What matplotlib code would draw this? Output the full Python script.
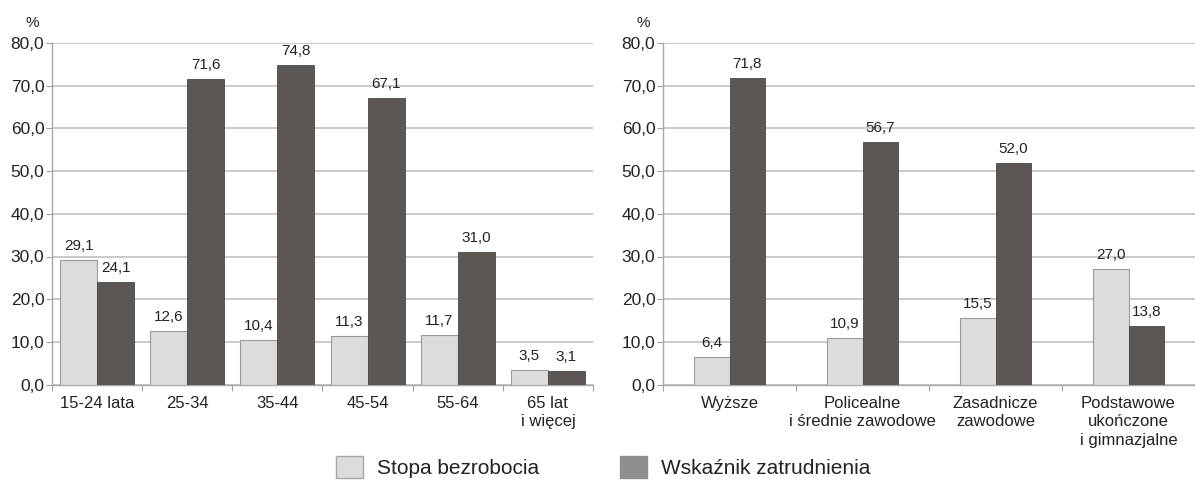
import matplotlib
matplotlib.use("Agg")
import matplotlib.pyplot as plt
from matplotlib.patches import Patch
import numpy as np

plt.rcParams['font.family'] = ['Liberation Sans', 'DejaVu Sans']

# left panel: age groups
age_groups = ["15-24 lata", "25-34", "35-44", "45-54", "55-64", "65 lat\ni więcej"]
age_unemp = [29.1, 12.6, 10.4, 11.3, 11.7, 3.5]
age_empl = [24.1, 71.6, 74.8, 67.1, 31.0, 3.1]

# right panel: education
edu_groups = ["Wyższe", "Policealne\ni średnie zawodowe", "Zasadnicze\nzawodowe",
              "Podstawowe\nukończone\ni gimnazjalne"]
edu_unemp = [6.4, 10.9, 15.5, 27.0]
edu_empl = [71.8, 56.7, 52.0, 13.8]

yticks = [0, 10, 20, 30, 40, 50, 60, 70, 80]

light = "#dcdcdc"
dark = "#5a5755"
grid_c = "#c0c0c0"
txt = "#222222"


def fmt(v):
    return ("%.1f" % v).replace(".", ",")


def panel(ax, cats, unemp, empl, width, xmax):
    n = len(cats)
    x = np.arange(n)
    ax.bar(x - width / 2, unemp, width, color=light, edgecolor="#9a9a9a",
           linewidth=0.8, zorder=3)
    ax.bar(x + width / 2, empl, width, color=dark, edgecolor="#4a4846",
           linewidth=0.6, zorder=3)
    for xi, v in zip(x - width / 2, unemp):
        ax.annotate(fmt(v), (xi, v), xytext=(0, 7.2), textcoords="offset points",
                    ha="center", va="baseline", fontsize=11, color=txt)
    for xi, v in zip(x + width / 2, empl):
        ax.annotate(fmt(v), (xi, v), xytext=(0, 7.2), textcoords="offset points",
                    ha="center", va="baseline", fontsize=11, color=txt)

    ax.set_ylim(0, 80)
    ax.set_xlim(-0.5, xmax)
    ax.set_yticks(yticks)
    ax.set_yticklabels([fmt(t) for t in yticks], fontsize=12.5, color=txt)
    ax.yaxis.grid(True, color=grid_c, linewidth=1.2, zorder=0)
    ax.set_axisbelow(True)

    # tick marks between categories, labels at centers
    ax.set_xticks(np.arange(n + 1) - 0.5)
    ax.set_xticklabels([])
    ax.set_xticks(x, minor=True)
    ax.set_xticklabels(cats, minor=True, fontsize=12, color=txt,
                       linespacing=1.3)
    ax.tick_params(axis="x", which="minor", length=0, pad=8)
    ax.tick_params(axis="x", which="major", length=4, color="#a0a0a0")
    ax.tick_params(axis="y", length=4, color="#a0a0a0", pad=1.5)

    for s in ["top", "right"]:
        ax.spines[s].set_visible(False)
    for s in ["left", "bottom"]:
        ax.spines[s].set_color("#a8a8a8")
        ax.spines[s].set_linewidth(1.0)


fig = plt.figure(figsize=(11.95, 4.8), dpi=100)

ax1 = fig.add_axes([52 / 1195, 1 - 384.6 / 480, 541 / 1195, 341.6 / 480])
panel(ax1, age_groups, age_unemp, age_empl, 0.41, 5.5)

ax2 = fig.add_axes([663 / 1195, 1 - 384.6 / 480, 532 / 1195, 341.6 / 480])
panel(ax2, edu_groups, edu_unemp, edu_empl, 0.27, -0.5 + 532 / 137)

fig.text(32 / 1195, 1 - 23 / 480, "%", ha="center", va="center", fontsize=11, color=txt)
fig.text(643 / 1195, 1 - 23 / 480, "%", ha="center", va="center", fontsize=11, color=txt)

handles = [Patch(facecolor=light, edgecolor="#a8a8a8", linewidth=1.0),
           Patch(facecolor="#8e8f91", edgecolor="#8e8f91", linewidth=1.0)]
fig.legend(handles, ["Stopa bezrobocia", "Wskaźnik zatrudnienia"], ncol=2,
           loc="center left", bbox_to_anchor=(336 / 1195, 1 - 467 / 480),
           frameon=False, fontsize=15, handlelength=1.3, handleheight=1.3,
           handletextpad=0.65, columnspacing=3.9, borderpad=0, borderaxespad=0,
           labelcolor=txt)

fig.savefig("out.png", dpi=100, facecolor="white")
